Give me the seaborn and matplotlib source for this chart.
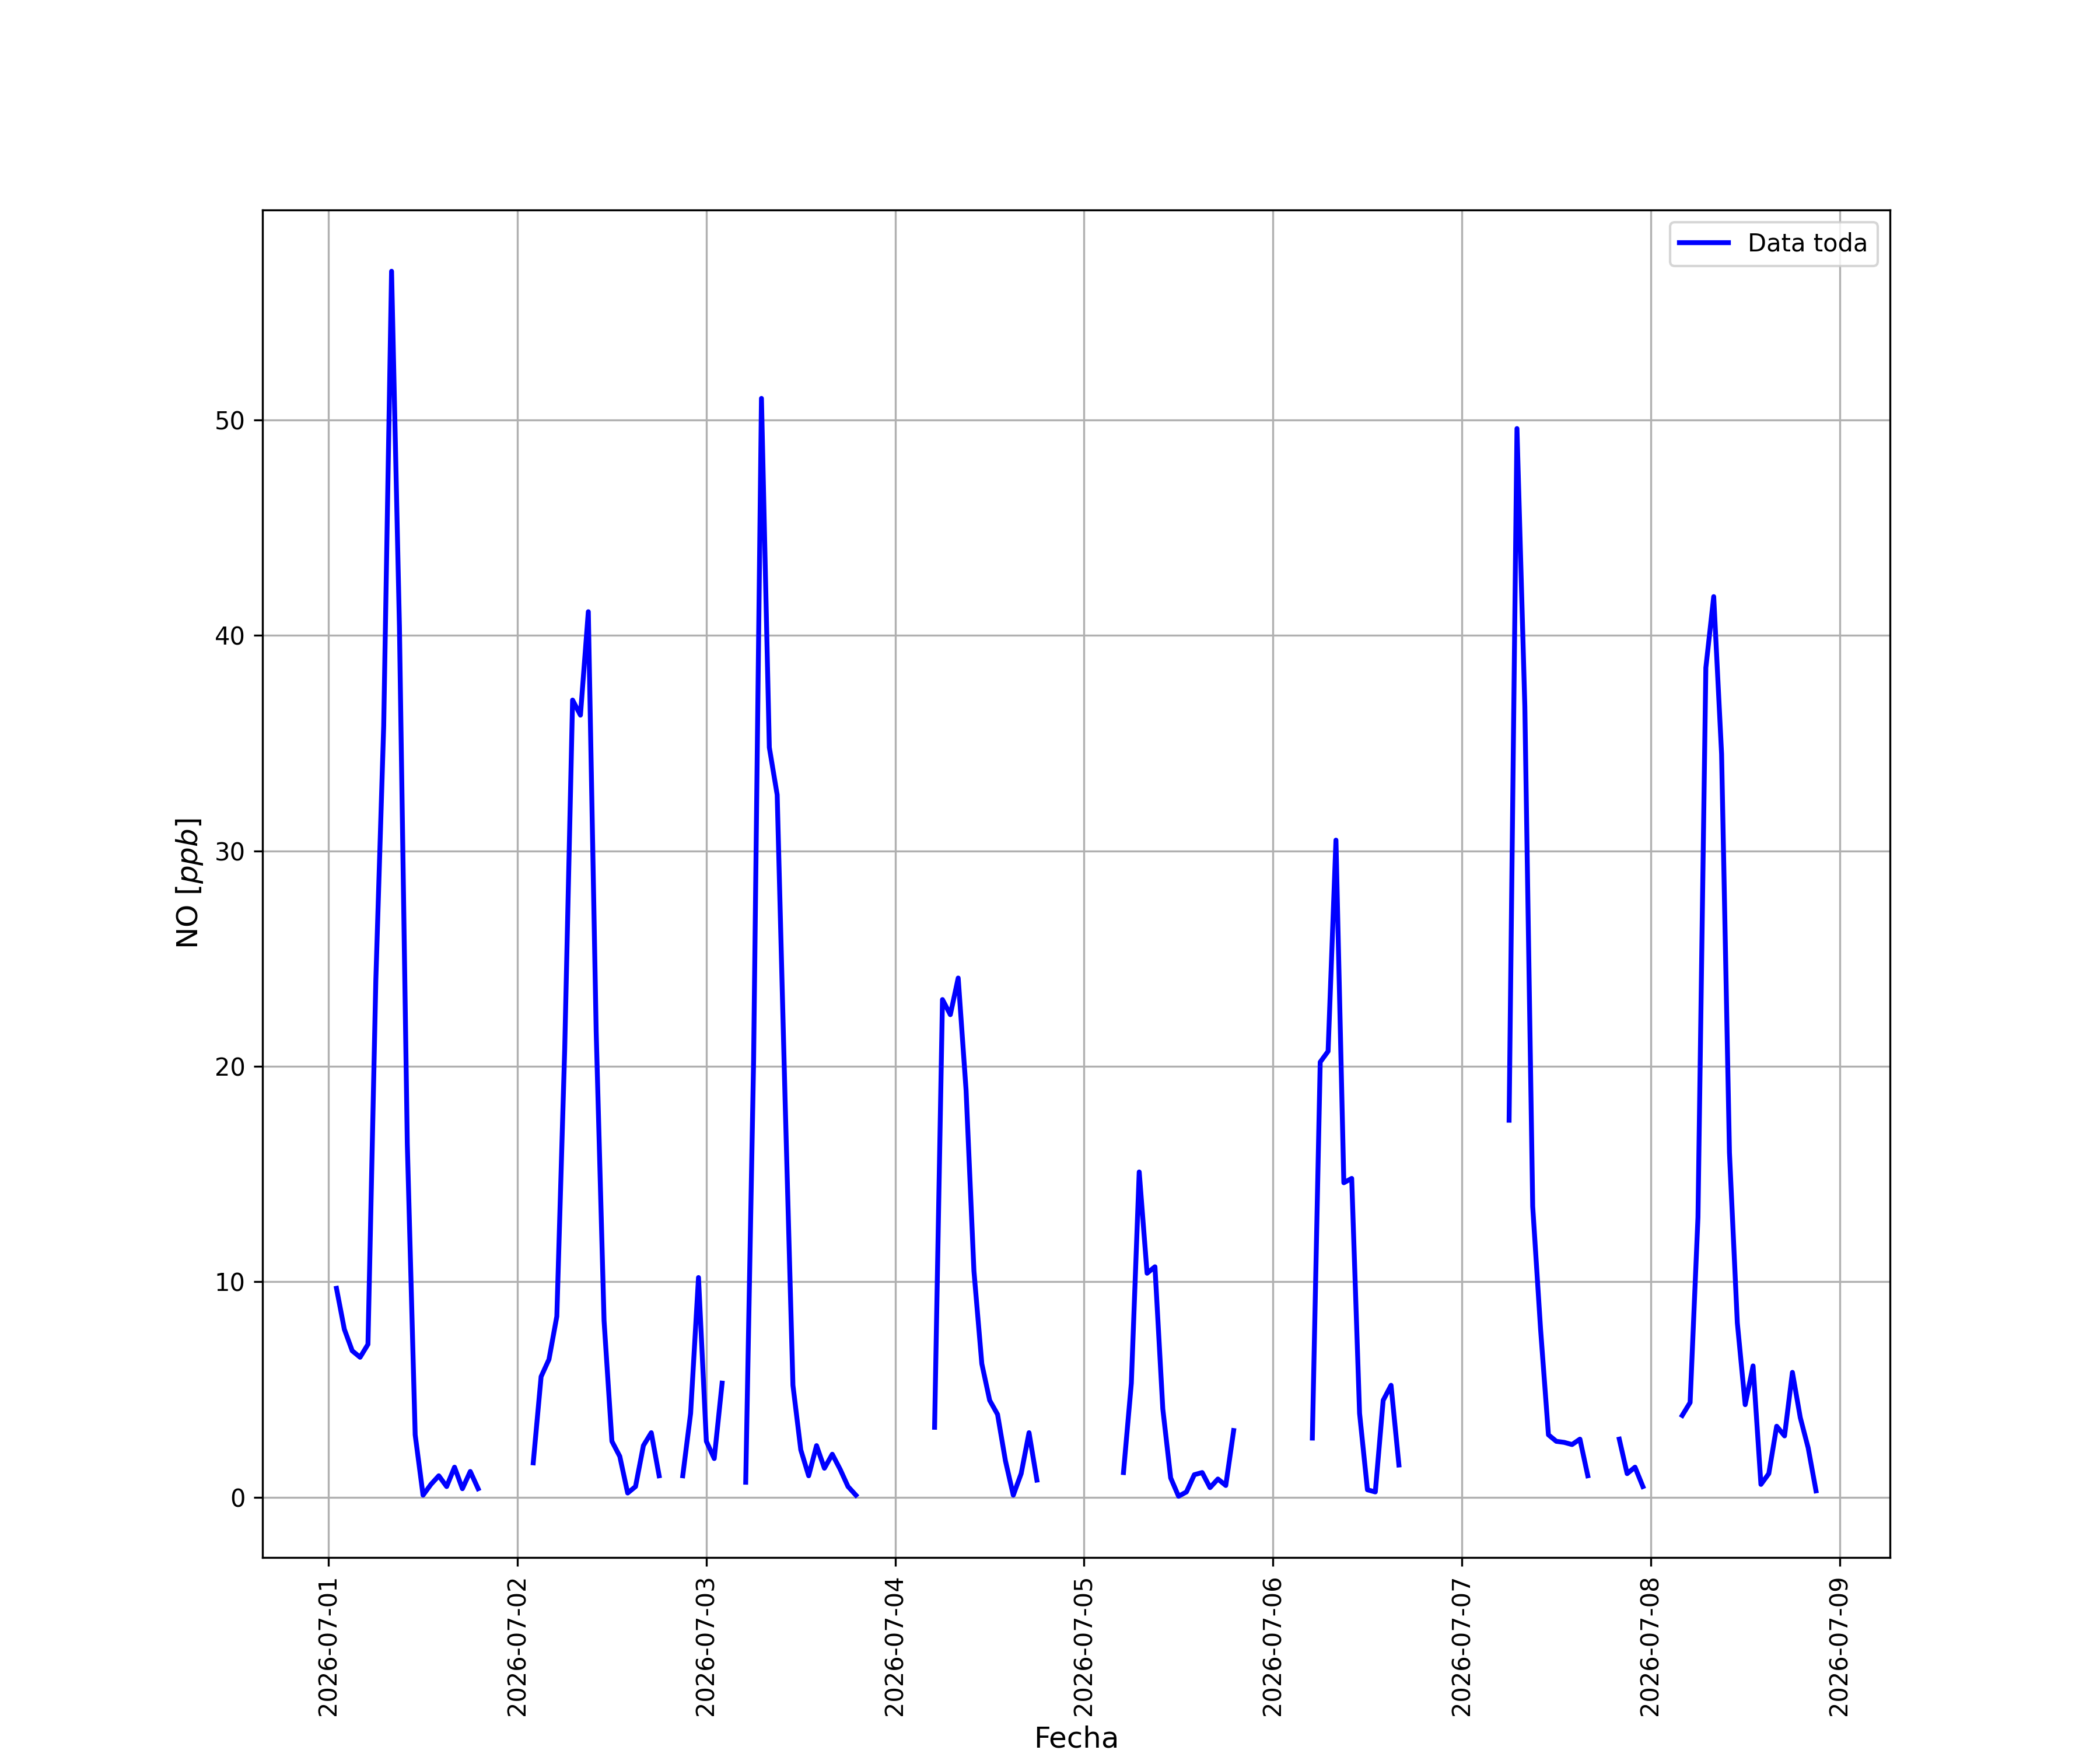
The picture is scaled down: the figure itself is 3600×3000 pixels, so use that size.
import pandas as pd
import matplotlib.pyplot as plt
import seaborn as sns
from matplotlib.lines import Line2D

# hourly NO readings, one list per unbroken stretch (gaps are missing hours)
start_1 = '2026-07-01 01:00'
no_1 = [9.7, 7.8, 6.8, 6.5, 7.1, 24.0, 35.8, 56.9, 40.4, 16.4, 2.9, 0.1, 0.6, 1.0, 0.5, 1.4, 0.4, 1.2, 0.4]
start_2 = '2026-07-02 02:00'
no_2 = [1.6, 5.6, 6.4, 8.4, 20.8, 37.0, 36.3, 41.1, 21.6, 8.2, 2.6, 1.9, 0.2, 0.5, 2.4, 3.0, 1.0]
start_3 = '2026-07-02 21:00'
no_3 = [1.0, 3.9, 10.2, 2.6, 1.8, 5.3]
start_4 = '2026-07-03 05:00'
no_4 = [0.7, 20.2, 51.0, 34.8, 32.6, 18.5, 5.2, 2.2, 1.0, 2.4, 1.35, 2.0, 1.3, 0.5, 0.1]
start_5 = '2026-07-04 05:00'
no_5 = [3.25, 23.1, 22.4, 24.1, 18.9, 10.5, 6.2, 4.5, 3.85, 1.7, 0.1, 1.1, 3.0, 0.8]
start_6 = '2026-07-05 05:00'
no_6 = [1.15, 5.3, 15.1, 10.4, 10.7, 4.1, 0.9, 0.05, 0.25, 1.05, 1.15, 0.45, 0.85, 0.55, 3.1]
start_7 = '2026-07-06 05:00'
no_7 = [2.75, 20.2, 20.7, 30.5, 14.6, 14.8, 3.9, 0.35, 0.25, 4.5, 5.2, 1.5]
start_8 = '2026-07-07 06:00'
no_8 = [17.5, 49.6, 36.7, 13.5, 7.8, 2.9, 2.6, 2.55, 2.45, 2.7, 1.0]
start_9 = '2026-07-07 20:00'
no_9 = [2.7, 1.1, 1.4, 0.5]
start_10 = '2026-07-08 04:00'
no_10 = [3.8, 4.4, 13.0, 38.5, 41.8, 34.5, 16.0, 8.1, 4.3, 6.1, 0.6, 1.1, 3.3, 2.85, 5.8, 3.7, 2.3, 0.3]

starts = [start_1, start_2, start_3, start_4, start_5, start_6, start_7, start_8, start_9, start_10]
series = [no_1, no_2, no_3, no_4, no_5, no_6, no_7, no_8, no_9, no_10]

frames = []
for i, (s, vals) in enumerate(zip(starts, series)):
    frames.append(pd.DataFrame({
        'Fecha': pd.date_range(s, periods=len(vals), freq='h'),
        'NO': vals,
        'tramo': i,
    }))
data = pd.concat(frames, ignore_index=True)

fig, ax = plt.subplots(figsize=(12, 10), dpi=300)
sns.lineplot(data=data, x='Fecha', y='NO', units='tramo', estimator=None,
             color='blue', linewidth=2, ax=ax)

ax.set_xlabel('Fecha', fontsize=12)
ax.set_ylabel('NO [$ppb$]', fontsize=12)
ax.grid(True)
plt.xticks(rotation=90)

legend_elements = [Line2D([0], [0], color='blue', linewidth=2, label='Data toda')]
ax.legend(handles=legend_elements, loc='upper right')

plt.savefig('out.png', dpi=300)
